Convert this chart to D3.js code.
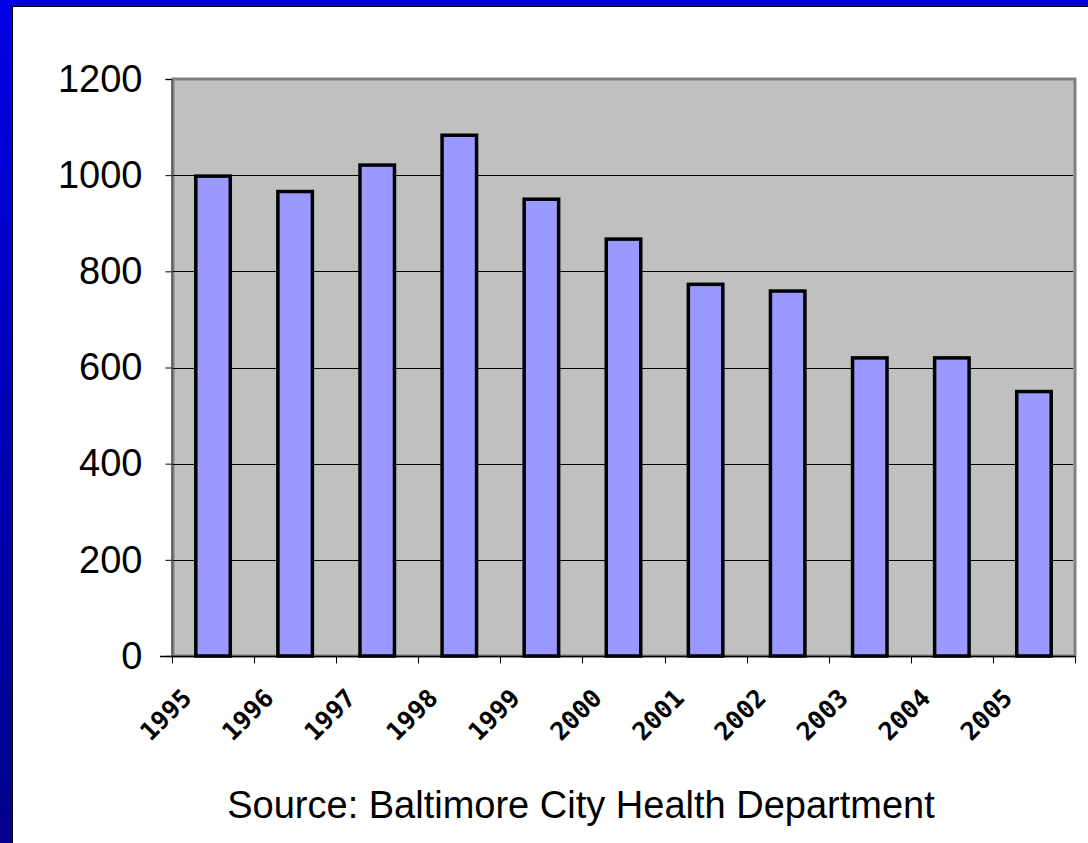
<!DOCTYPE html>
<html>
<head>
<meta charset="utf-8">
<script src="https://cdn.jsdelivr.net/npm/d3@7"></script>
<style>
  html, body { margin: 0; padding: 0; background: #fff; overflow: hidden; }
  #content { width: 1088px; height: 843px; }
</style>
</head>
<body>
<div id="content"></div>
<script>
var years = ['1995', '1996', '1997', '1998', '1999', '2000', '2001', '2002', '2003', '2004', '2005'];
var counts = [998, 966, 1021, 1083, 950, 867, 773, 759, 620, 620, 550];
var yTicks = [0, 200, 400, 600, 800, 1000, 1200];
var source = 'Source: Baltimore City Health Department';

var width = 1088, height = 843;
var svg = d3.select('div#content').append('svg')
  .attr('width', width)
  .attr('height', height);
var defs = svg.append('defs');

var grad = defs.append('linearGradient')
  .attr('id', 'frame')
  .attr('x1', 0).attr('y1', 0).attr('x2', 0).attr('y2', 1);
grad.append('stop').attr('offset', '0%').attr('stop-color', '#0000e6');
grad.append('stop').attr('offset', '100%').attr('stop-color', '#00008a');

// slide frame
svg.append('rect').attr('x', 0).attr('y', 0).attr('width', width).attr('height', 6).attr('fill', '#0000e6');
svg.append('rect').attr('x', 0).attr('y', 0).attr('width', 12).attr('height', height).attr('fill', 'url(#frame)');
svg.append('line').attr('x1', 12).attr('x2', width).attr('y1', 6.5).attr('y2', 6.5).attr('stroke', '#000').attr('stroke-width', 1);
svg.append('line').attr('x1', 12.5).attr('x2', 12.5).attr('y1', 6).attr('y2', height).attr('stroke', '#000').attr('stroke-width', 1);

var plotLeft = 172, plotRight = 1075, plotTop = 79, plotBottom = 656;

var x = d3.scaleBand()
  .domain(years)
  .range([plotLeft, plotRight])
  .paddingInner(0.58)
  .paddingOuter(0.29);
var y = d3.scaleLinear()
  .domain([0, 1200])
  .range([plotBottom, plotTop]);

// plot area
svg.append('rect')
  .attr('x', plotLeft + 1).attr('y', plotTop)
  .attr('width', plotRight - plotLeft - 1).attr('height', plotBottom - plotTop)
  .attr('fill', '#c0c0c0')
  .attr('stroke', '#808080')
  .attr('stroke-width', 3);

svg.append('g')
  .selectAll('line')
  .data(yTicks.filter(function(d){ return d > 0 && d < 1200; }))
  .enter()
  .append('line')
  .attr('x1', plotLeft).attr('x2', plotRight - 2)
  .attr('y1', function(d){ return Math.round(y(d)) + 0.5; })
  .attr('y2', function(d){ return Math.round(y(d)) + 0.5; })
  .attr('stroke', '#000')
  .attr('stroke-width', 1);

svg.append('g')
  .selectAll('rect')
  .data(counts)
  .enter()
  .append('rect')
  .attr('x', function(d, i){ return x(years[i]); })
  .attr('y', function(d){ return y(d); })
  .attr('width', x.bandwidth())
  .attr('height', function(d){ return plotBottom - y(d); })
  .attr('fill', '#9999ff')
  .attr('stroke', '#000')
  .attr('stroke-width', 3.5);

// y axis
var yAxis = d3.axisLeft(y)
  .tickValues(yTicks)
  .tickFormat(d3.format('d'))
  .tickSize(6)
  .tickPadding(23);
var gy = svg.append('g')
  .attr('transform', 'translate(' + (plotLeft - 0.5) + ',0)')
  .call(yAxis);
gy.select('.domain').attr('stroke', '#555').attr('stroke-width', 1.5);
gy.selectAll('.tick line').attr('stroke', '#000');
gy.selectAll('.tick text')
  .attr('font-family', 'Liberation Sans, Arial, sans-serif')
  .attr('font-size', 38)
  .attr('fill', '#000');

// x axis
var step = x.step();
var gx = svg.append('g')
  .attr('transform', 'translate(0,' + (plotBottom + 0.5) + ')');
gx.append('line')
  .attr('x1', plotLeft - 12).attr('x2', plotRight)
  .attr('stroke', '#000').attr('stroke-width', 1.5);
gx.selectAll('line.tk')
  .data(d3.range(years.length + 1))
  .enter()
  .append('line')
  .attr('class', 'tk')
  .attr('x1', function(i){ return Math.round(plotLeft + i * step) + 0.5; })
  .attr('x2', function(i){ return Math.round(plotLeft + i * step) + 0.5; })
  .attr('y1', 0).attr('y2', 7)
  .attr('stroke', '#000');
gx.selectAll('text')
  .data(years)
  .enter()
  .append('text')
  .attr('transform', function(d){
    return 'translate(' + (x(d) + x.bandwidth() / 2 - 20) + ',43) rotate(-45)';
  })
  .attr('text-anchor', 'end')
  .attr('font-family', 'DejaVu Sans Mono, monospace')
  .attr('font-weight', 'bold')
  .attr('font-size', 25)
  .attr('fill', '#000')
  .text(function(d){ return d; });

svg.append('text')
  .attr('x', 581)
  .attr('y', 818)
  .attr('text-anchor', 'middle')
  .attr('font-family', 'Liberation Sans, Arial, sans-serif')
  .attr('font-size', 38)
  .attr('fill', '#000')
  .text(source);
</script>
</body>
</html>
